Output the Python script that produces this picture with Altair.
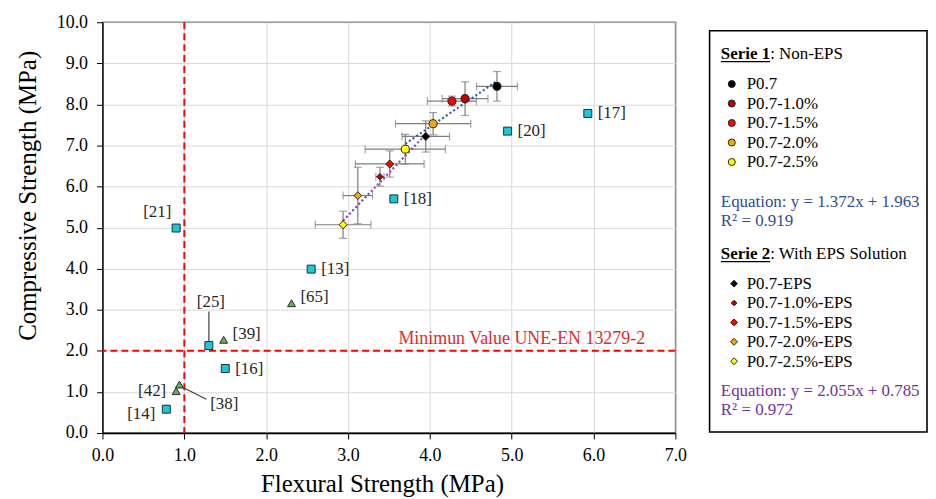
import altair as alt
import pandas as pd

# ---------------- data ----------------
serie1_names = ["P0.7", "P0.7-1.0%", "P0.7-1.5%", "P0.7-2.0%", "P0.7-2.5%"]
serie1_flex = [4.82, 4.43, 4.27, 4.04, 3.70]
serie1_comp = [8.44, 8.14, 8.08, 7.53, 6.91]
serie1_flex_err = [0.25, 0.28, 0.30, 0.46, 0.49]
serie1_comp_err = [0.36, 0.41, 0.12, 0.27, 0.36]
serie1_colors = ["#000000", "#C00000", "#FF0000", "#F2A900", "#FFFF00"]

serie2_names = ["P0.7-EPS", "P0.7-1.0%-EPS", "P0.7-1.5%-EPS", "P0.7-2.0%-EPS", "P0.7-2.5%-EPS"]
serie2_flex = [3.95, 3.39, 3.51, 3.12, 2.94]
serie2_comp = [7.22, 6.24, 6.55, 5.78, 5.07]
serie2_flex_err = [0.29, 0.05, 0.42, 0.18, 0.34]
serie2_comp_err = [0.38, 0.23, 0.32, 0.69, 0.33]
serie2_colors = ["#000000", "#C00000", "#FF0000", "#F2A900", "#FFFF00"]

trend1_flex = [3.70, 4.82]
trend1_comp = [7.04, 8.57]
trend2_flex = [2.94, 3.95]
trend2_comp = [5.17, 7.27]

sq_labels = ["[17]", "[20]", "[18]", "[13]", "[21]", "[25]", "[16]", "[14]"]
sq_flex = [5.93, 4.95, 3.56, 2.55, 0.90, 1.30, 1.50, 0.78]
sq_comp = [7.78, 7.35, 5.70, 3.99, 4.99, 2.13, 1.57, 0.58]

tri_labels = ["[65]", "[39]", "[42]", "[38]"]
tri_flex = [2.31, 1.48, 0.90, 0.94]
tri_comp = [3.16, 2.27, 1.02, 1.18]

# leader lines of two labels (start/end)
leader_x1 = [1.30, 0.99]
leader_y1 = [2.22, 1.10]
leader_x2 = [1.30, 1.27]
leader_y2 = [2.96, 0.82]

min_flex = 1.0
min_comp = 2.0
min_label = "Minimun Value UNE-EN 13279-2"
min_label_x = 6.63

eq1 = ["Equation: y = 1.372x + 1.963", "R² = 0.919"]
eq2 = ["Equation: y = 2.055x + 0.785", "R² = 0.972"]

x_ticks = [0, 1, 2, 3, 4, 5, 6, 7]
y_ticks = [0, 1, 2, 3, 4, 5, 6, 7, 8, 9, 10]

# ---------------- styling ----------------
FONT = "Liberation Serif"
W, H = 576, 413
GREY = "#7F7F7F"
CYAN = "#1CC7D6"
GREEN = "#70AD47"
BLUE_EQ = "#2F4C94"
PURPLE = "#7030A0"

xs = alt.Scale(domain=[0, 7], nice=False, zero=False)
ys = alt.Scale(domain=[0, 10], nice=False, zero=False)
xaxis = alt.Axis(values=x_ticks, format=".1f", title="Flexural Strength (MPa)",
                 titleX=281, grid=True, labelFlush=False)
yaxis = alt.Axis(values=y_ticks, format=".1f", title="Compressive Strength (MPa)",
                 titleY=174, grid=True, labelFlush=False)


def X(f):
    return alt.X(f, type="quantitative", scale=xs, axis=xaxis)


def Y(f):
    return alt.Y(f, type="quantitative", scale=ys, axis=yaxis)


def PX(f):
    return alt.X(f, type="quantitative", scale=None, axis=None)


def PY(f):
    return alt.Y(f, type="quantitative", scale=None, axis=None)


mix = pd.DataFrame({
    "name": serie1_names + serie2_names,
    "flex": serie1_flex + serie2_flex,
    "comp": serie1_comp + serie2_comp,
    "ferr": serie1_flex_err + serie2_flex_err,
    "cerr": serie1_comp_err + serie2_comp_err,
    "color": serie1_colors + serie2_colors,
    "shape": ["circle"] * 5 + ["diamond"] * 5,
    "size": [66] * 5 + [66, 42, 66, 60, 66],
})

refs = pd.DataFrame({
    "label": sq_labels + tri_labels,
    "flex": sq_flex + tri_flex,
    "comp": sq_comp + tri_comp,
    "shape": ["square"] * len(sq_labels) + ["triangle-up"] * len(tri_labels),
    "color": [CYAN] * len(sq_labels) + [GREEN] * len(tri_labels),
})

layers = []

# reference (minimum) lines
layers.append(alt.Chart(pd.DataFrame({"x": [min_flex]})).mark_rule(
    color="#FF0000", strokeDash=[7, 4], strokeWidth=2).encode(x=X("x")))
layers.append(alt.Chart(pd.DataFrame({"y": [min_comp]})).mark_rule(
    color="#FF0000", strokeDash=[7, 4], strokeWidth=2).encode(y=Y("y")))
layers.append(alt.Chart(pd.DataFrame({"x": [min_label_x], "y": [min_comp], "t": [min_label]})).mark_text(
    align="right", baseline="alphabetic", dy=-7, font=FONT, fontSize=18, color="#E02B2B"
).encode(x=X("x"), y=Y("y"), text="t:N"))

# error bars
eb = alt.Chart(mix).transform_calculate(
    xlo="datum.flex - datum.ferr", xhi="datum.flex + datum.ferr",
    ylo="datum.comp - datum.cerr", yhi="datum.comp + datum.cerr")
layers.append(eb.mark_rule(color=GREY, strokeWidth=1.2).encode(x=X("xlo"), x2="xhi:Q", y=Y("comp")))
layers.append(eb.mark_rule(color=GREY, strokeWidth=1.2).encode(x=X("flex"), y=Y("ylo"), y2="yhi:Q"))
for f in ["xlo", "xhi"]:
    layers.append(eb.mark_tick(orient="vertical", size=8, thickness=1.2, color=GREY).encode(
        x=X(f), y=Y("comp")))
for f in ["ylo", "yhi"]:
    layers.append(eb.mark_tick(orient="horizontal", size=8, thickness=1.2, color=GREY).encode(
        x=X("flex"), y=Y(f)))

# trend lines
layers.append(alt.Chart(pd.DataFrame({"x": trend1_flex, "y": trend1_comp})).mark_line(
    color="#34569F", strokeDash=[2, 2.5], strokeWidth=2.2).encode(x=X("x"), y=Y("y")))
layers.append(alt.Chart(pd.DataFrame({"x": trend2_flex, "y": trend2_comp})).mark_line(
    color="#8A3CC4", strokeDash=[2, 2.5], strokeWidth=2.2).encode(x=X("x"), y=Y("y")))

# leader lines
layers.append(alt.Chart(pd.DataFrame({"x1": leader_x1, "y1": leader_y1, "x2": leader_x2, "y2": leader_y2}))
              .mark_rule(color="#404040", strokeWidth=1.2)
              .encode(x=X("x1"), y=Y("y1"), x2="x2:Q", y2="y2:Q"))

# literature points
layers.append(alt.Chart(refs).mark_point(filled=True, size=64, stroke="#1F2D3A", strokeWidth=1, opacity=1).encode(
    x=X("flex"), y=Y("comp"),
    shape=alt.Shape("shape:N", scale=None),
    fill=alt.Fill("color:N", scale=None)))

# mix points
layers.append(alt.Chart(mix).mark_point(filled=True, stroke="#222222", strokeWidth=1, opacity=1).encode(
    x=X("flex"), y=Y("comp"),
    shape=alt.Shape("shape:N", scale=None),
    fill=alt.Fill("color:N", scale=None),
    size=alt.Size("size:Q", scale=None)))

# literature labels
placements = [
    (["[17]", "[20]", "[18]", "[13]", "[16]"], "left", 10, 0),
    (["[65]", "[39]"], "left", 9, -6),
    (["[42]"], "right", -10, 0),
    (["[14]"], "right", -11, 5),
    (["[21]"], "center", -19, -16),
    (["[25]"], "center", 2, -44),
    (["[38]"], "left", 31, 20),
]
for labs, al, dx, dy in placements:
    layers.append(alt.Chart(refs).transform_filter(
        alt.FieldOneOfPredicate(field="label", oneOf=labs)).mark_text(
        align=al, baseline="middle", dx=dx, dy=dy, font=FONT, fontSize=17, color="#262626"
    ).encode(x=X("flex"), y=Y("comp"), text="label:N"))

# ---------------- legend box (pixel layout right of the plot) ----------------
BX0, BX1, BY0, BY1 = 610.4, 829.0, 8.6, 412.0
TX = 621.7
layers.append(alt.Chart(pd.DataFrame({"a": [0]})).mark_rect(
    fill="white", stroke="#000000", strokeWidth=1.6).encode(
    x=alt.value(BX0), x2=alt.value(BX1), y=alt.value(BY0), y2=alt.value(BY1)))

heads = pd.DataFrame({
    "bold": ["Serie 1", "Serie 2"],
    "rest": [": Non-EPS", ": With EPS Solution"],
    "px": [TX, TX], "px2": [TX + 49.6, TX + 49.6],
    "py": [36.6, 237.6], "uy": [39.6, 240.6],
})
layers.append(alt.Chart(heads).mark_text(align="left", baseline="alphabetic", font=FONT, fontSize=17,
                                         fontWeight="bold", color="#000").encode(
    x=PX("px"), y=PY("py"), text="bold:N"))
layers.append(alt.Chart(heads).mark_text(align="left", baseline="alphabetic", font=FONT, fontSize=17,
                                         color="#000").encode(
    x=PX("px2"), y=PY("py"), text="rest:N"))
layers.append(alt.Chart(heads).mark_rule(color="#000", strokeWidth=1.2).encode(
    x=PX("px"), x2="px2:Q", y=PY("uy")))

leg = pd.DataFrame({
    "name": serie1_names + serie2_names,
    "color": serie1_colors + serie2_colors,
    "shape": ["circle"] * 5 + ["diamond"] * 5,
    "size": [50] * 5 + [48, 32, 48, 48, 48],
    "mx": [632.7] * 5 + [635.0] * 5,
    "tx": [647.7] * 10,
    "by": [67.6 + 19.6 * i for i in range(5)] + [268.3 + 19.5 * i for i in range(5)],
})
leg["my"] = leg["by"] - 5.5
layers.append(alt.Chart(leg).mark_point(filled=True, stroke="#222222", strokeWidth=1, opacity=1).encode(
    x=PX("mx"), y=PY("my"),
    shape=alt.Shape("shape:N", scale=None),
    fill=alt.Fill("color:N", scale=None),
    size=alt.Size("size:Q", scale=None)))
layers.append(alt.Chart(leg).mark_text(align="left", baseline="alphabetic", font=FONT, fontSize=17,
                                       color="#000").encode(
    x=PX("tx"), y=PY("by"), text="name:N"))

eqs = pd.DataFrame({
    "t": eq1 + eq2,
    "px": [TX] * 4,
    "py": [186.0, 204.5, 376.0, 394.5],
    "c": [BLUE_EQ, BLUE_EQ, PURPLE, PURPLE],
})
layers.append(alt.Chart(eqs).mark_text(align="left", baseline="alphabetic", font=FONT, fontSize=17).encode(
    x=PX("px"), y=PY("py"), text="t:N", color=alt.Color("c:N", scale=None)))

chart = alt.layer(*layers).properties(
    width=W, height=H,
    padding={"left": 7, "top": 4, "right": 0, "bottom": 0},
).configure_axis(
    labelFont=FONT, titleFont=FONT, labelFontSize=18, titleFontSize=25,
    labelColor="#000", titleColor="#000", titleFontWeight="normal",
    gridColor="#D9D9D9", gridWidth=1, domainColor="#000", domainWidth=1.3,
    tickColor="#000", tickSize=6,
).configure_axisX(labelPadding=8, titlePadding=7).configure_axisY(
    labelPadding=9, titlePadding=16
).configure_view(stroke="#000", strokeWidth=1.3)

chart.save("out.html", embed_options={"renderer": "svg", "actions": False})
